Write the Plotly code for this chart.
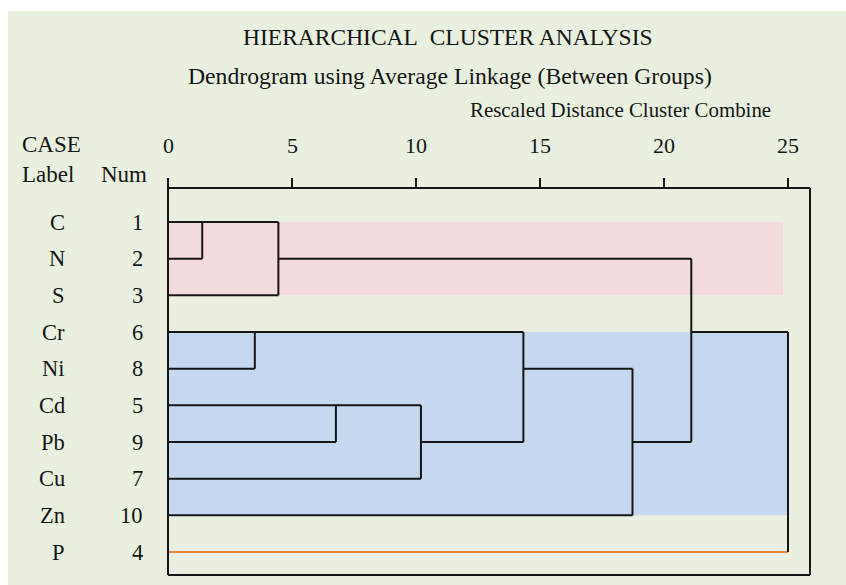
import plotly.graph_objects as go

# ---------------- data ----------------
labels = ["C", "N", "S", "Cr", "Ni", "Cd", "Pb", "Cu", "Zn", "P"]
nums = [1, 2, 3, 6, 8, 5, 9, 7, 10, 4]
# merges: pairs of row positions joined, and the rescaled distance of the join
merge_rows = [(0, 1), (0, 2), (3, 4), (5, 6), (5, 7), (3, 6), (4, 8), (1, 6), (3, 9)]
merge_heights = [1.38, 4.45, 3.5, 6.77, 10.2, 14.33, 18.73, 21.1, 25.0]
tick_values = [0, 5, 10, 15, 20, 25]
tick_labels = ["0", "5", "10", "15", "20", "25"]
# highlighted cluster groups (first row, last row, right end)
group_rows = [(0, 2), (3, 8)]
group_ends = [24.8, 25.0]
group_colors = ["#f2dadd", "#c6d8ef"]
outlier_rows = [9]

# ---------------- layout geometry ----------------
W, H = 846, 585
X0PX, PXU = 168.0, 24.8      # pixel of distance 0, pixels per unit
Y0PX, PYU = 222.0, 36.67     # pixel of row 0, pixels per row

def dx(px):
    return (px - X0PX) / PXU

def ry(py):
    return (py - Y0PX) / PYU

SERIF = "Liberation Serif, Times New Roman, serif"
INK = "#151515"
BG = "#e9f0df"

fig = go.Figure()

# dendrogram segments
start = [0.0] * len(labels)
bx, by, ox, oy = [], [], [], []
for (a, b), h in zip(merge_rows, merge_heights):
    for r in (a, b):
        if r in outlier_rows and start[r] == 0:
            ox += [start[r], h, None]
            oy += [r, r, None]
        else:
            bx += [start[r], h, None]
            by += [r, r, None]
    bx += [h, h, None]
    by += [a, b, None]
    start[(a + b) // 2] = h

fig.add_trace(go.Scatter(x=ox, y=oy, mode="lines",
                         line=dict(color="#e8873a", width=2), hoverinfo="skip"))
fig.add_trace(go.Scatter(x=bx, y=by, mode="lines",
                         line=dict(color=INK, width=2), hoverinfo="skip"))

shapes = []
# green background panel
shapes.append(dict(type="rect", xref="x", yref="y",
                   x0=dx(8), x1=dx(W), y0=ry(11), y1=ry(H),
                   fillcolor=BG, line=dict(width=0), layer="below"))
# cluster shading
for (r0, r1), xe, col in zip(group_rows, group_ends, group_colors):
    shapes.append(dict(type="rect", xref="x", yref="y", x0=0, x1=xe, y0=r0, y1=r1,
                       fillcolor=col, line=dict(width=0), layer="below"))

# frame
top, bot, right, tick_top = ry(188), ry(575), dx(810), ry(178)
frame = [(0, tick_top, 0, bot), (0, top, right, top), (right, top, right, bot), (0, bot, right, bot)]
for t in tick_values[1:]:
    frame.append((t, top, t, tick_top))
for x0, y0, x1, y1 in frame:
    shapes.append(dict(type="line", xref="x", yref="y", x0=x0, y0=y0, x1=x1, y1=y1,
                       line=dict(color=INK, width=2)))

ann = []
def text(x, y, s, size, xanchor="center"):
    ann.append(dict(x=x, y=y, xref="x", yref="y", text=s, showarrow=False,
                    xanchor=xanchor, yanchor="middle",
                    font=dict(family=SERIF, size=size, color=INK)))

text(dx(448), ry(36.5), "HIERARCHICAL\u00a0 CLUSTER ANALYSIS", 23.5)
text(dx(450), ry(76), "Dendrogram using Average Linkage (Between Groups)", 23.7)
text(dx(773), ry(109.5), "Rescaled Distance Cluster Combine", 20.9, xanchor="right")
for v, s in zip(tick_values, tick_labels):
    text(v, ry(145.5), s, 22)
text(dx(20), ry(144.5), "CASE", 23, xanchor="left")
text(dx(20), ry(174), "Label", 23, xanchor="left")
text(dx(149), ry(174), "Num", 23, xanchor="right")
for i, (lab, n) in enumerate(zip(labels, nums)):
    text(dx(67), i, lab, 22.5, xanchor="right")
    text(dx(145), i, str(n), 22.5, xanchor="right")

fig.update_layout(
    width=W, height=H,
    margin=dict(l=0, r=0, t=0, b=0, pad=0),
    paper_bgcolor="white", plot_bgcolor="white",
    showlegend=False,
    xaxis=dict(range=[dx(0), dx(W)], visible=False, fixedrange=True),
    yaxis=dict(range=[ry(H), ry(0)], visible=False, fixedrange=True),
    shapes=shapes, annotations=ann,
)

fig.write_html(
    "out.html",
    config={"displayModeBar": False},
    post_script="document.body.style.margin='0';document.documentElement.style.overflow='hidden';",
)
